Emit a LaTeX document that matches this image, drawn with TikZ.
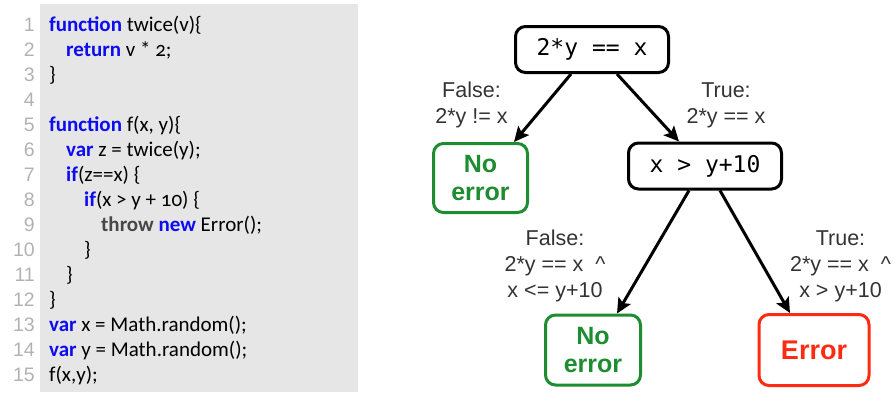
\documentclass[tikz,border=0pt]{standalone}
\usepackage{fontspec}
\setmainfont{Liberation Sans}
\newfontfamily\jsfont{Carlito}[Numbers=OldStyle]
\newfontfamily\boxtt{DejaVu Sans Mono}
\usetikzlibrary{arrows.meta}
\definecolor{kwblue}{RGB}{12,12,240}
\definecolor{okgreen}{RGB}{30,140,48}
\definecolor{errred}{RGB}{255,42,18}
\definecolor{codebg}{RGB}{230,230,230}
\newcommand{\kw}[1]{\textbf{\color{kwblue}#1}}
\newcommand{\kwdark}[1]{\textbf{\color{black!72}#1}}
\tikzset{
  cond/.style={draw,line width=3pt,rounded corners=10pt,minimum width=153pt,minimum height=46pt,inner sep=0pt,font=\boxtt\fontsize{23}{26}\selectfont},
  leaf/.style={draw=#1,text=#1,line width=3pt,rounded corners=10pt,align=center,inner sep=0pt,font=\bfseries\fontsize{25}{28}\selectfont},
  lbl/.style={align=center,text=black!80,inner sep=0pt,font=\fontsize{21.5}{26}\selectfont},
  edge/.style={-{Stealth[length=15pt,width=14pt,inset=3pt]},line width=3pt},
  codeln/.style={anchor=base west,inner sep=0pt,font=\jsfont\fontsize{21}{24}\selectfont},
  lineno/.style={anchor=base east,inner sep=0pt,text=black!30,font=\fontsize{19.5}{22}\selectfont}
}
\begin{document}
\begin{tikzpicture}[x=1pt,y=-1pt]
  \useasboundingbox (0,0) rectangle (894,392);
  % code panel
  \fill[codebg] (40,4) rectangle (358,392);
  \foreach \n in {1,...,15}
    \node[lineno] (num\n) at (35,{31+25*(\n-1)}) {\n};
  \node[codeln] (code1) at (49,31) {\kw{function} twice(v)\{};
  \node[codeln] (code2) at (66,56) {\kw{return} v * 2;};
  \node[codeln] (code3) at (49,81) {\}};
  \node[codeln] (code5) at (49,131) {\kw{function} f(x, y)\{};
  \node[codeln] (code6) at (66,156) {\kw{var} z = twice(y);};
  \node[codeln] (code7) at (66,181) {\kw{if}(z==x) \{};
  \node[codeln] (code8) at (84,206) {\kw{if}(x > y + 10) \{};
  \node[codeln] (code9) at (101,231) {\kwdark{throw} \kw{new} Error();};
  \node[codeln] (code10) at (84,256) {\}};
  \node[codeln] (code11) at (66,281) {\}};
  \node[codeln] (code12) at (49,306) {\}};
  \node[codeln] (code13) at (49,331) {\kw{var} x = Math.random();};
  \node[codeln] (code14) at (49,356) {\kw{var} y = Math.random();};
  \node[codeln] (code15) at (49,381) {f(x,y);};

  % decision tree
  \node[cond] (root) at (592,49.5) {2*y == x};
  \node[cond] (inner) at (705,166) {x > y+10};
  \node[leaf=okgreen,minimum width=94pt,minimum height=69pt] (noerrA) at (480.5,178) {No\\error};
  \node[leaf=okgreen,minimum width=95pt,minimum height=70pt] (noerrB) at (593,350) {No\\error};
  \node[leaf=errred,minimum width=110pt,minimum height=71pt,font=\bfseries\fontsize{27}{30}\selectfont] (err) at (814,350) {Error};
  \draw[edge] ([xshift=-21pt]root.south) -- ([xshift=33.5pt]noerrA.north);
  \draw[edge] ([xshift=25pt]root.south) -- ([xshift=-26pt]inner.north);
  \draw[edge] ([xshift=-16pt]inner.south) -- ([xshift=24pt]noerrB.north);
  \draw[edge] ([xshift=15pt]inner.south) -- ([xshift=-24pt]err.north);
  \node[lbl] (lblA) at (471.5,105) {False:\\2*y != x};
  \node[lbl] (lblB) at (726,105) {True:\\2*y == x};
  \node[lbl] (lblC) at (555,266) {False:\\2*y == x~~\textasciicircum\\x <= y+10};
  \node[lbl] (lblD) at (840.5,266) {True:\\2*y == x~~\textasciicircum\\x > y+10};
\end{tikzpicture}
\end{document}
